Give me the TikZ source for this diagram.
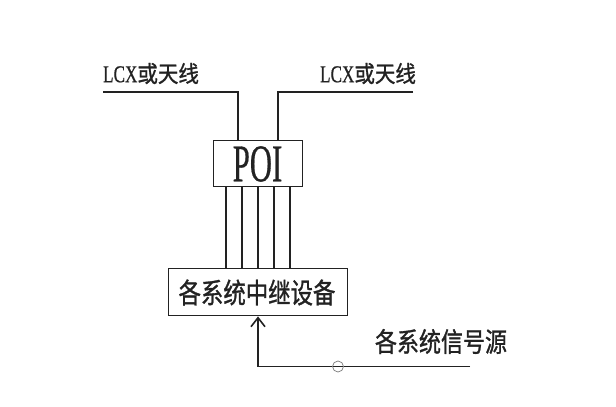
\documentclass[tikz,border=0pt]{standalone}
\usepackage{fontspec}
\setmainfont{Liberation Serif}[FakeBold=0.6,BoldFont=Liberation Serif]
\newfontfamily\cjk{Noto Sans CJK SC}[FakeBold=1.2,BoldFont=Noto Sans CJK SC]
\usetikzlibrary{arrows.meta}
\definecolor{ink}{HTML}{222222}
\tikzset{
  wire/.style={draw=ink, line width=1.8pt},
  boxnode/.style={draw=ink, line width=1.4pt, inner sep=0pt, anchor=north west},
  lbl/.style={inner sep=0pt, text=ink},
}
\newcommand{\lcx}{\scalebox{0.78}[1.1]{\bfseries\fontsize{22}{22}\selectfont LCX}\scalebox{1}[1.12]{\cjk\bfseries\fontsize{20.5}{20.5}\selectfont 或天线}}
\begin{document}
\begin{tikzpicture}[x=1pt,y=-1pt]
\useasboundingbox[fill=white] (0,0) rectangle (616,407);
% POI box
\node[boxnode, minimum width=89pt, minimum height=46pt] (poi) at (213,140) {};
\node[lbl] (poit) at (257.5,164) {\scalebox{0.58}[1]{\fontsize{53}{53}\selectfont POI}};
% relay box
\node[boxnode, minimum width=179pt, minimum height=47pt] (relay) at (168,268) {};
\node[lbl] (relayt) at (257,292.5) {\scalebox{1}[1.25]{\cjk\bfseries\fontsize{22.4}{22.4}\selectfont 各系统中继设备}};
% labels
\node[lbl] (l1) at (151,73.5) {\lcx};
\node[lbl] (l2) at (368,73.5) {\lcx};
\node[lbl] (src) at (441,341.5) {\scalebox{1}[1.22]{\cjk\bfseries\fontsize{22}{22}\selectfont 各系统信号源}};
% coordinates
\coordinate (la) at (103,92);
\coordinate (lb) at (238,92);
\coordinate (ra) at (413,92);
\coordinate (rb) at (278,92);
\draw[wire] (la) -- (lb) -- (lb |- poi.north);
\draw[wire] (ra) -- (rb) -- (rb |- poi.north);
% five lines
\foreach \x in {226,242,258,274,290}{
  \draw[wire, line width=1.6pt] (\x,186) -- (\x,268);
}
% signal source line
\coordinate (se) at (470,366.5);
\coordinate (sc) at (258,366.5);
\draw[wire, -{Straight Barb[length=9pt,width=14pt,line width=1.6pt]}] (se) -- (sc) -- (sc |- relay.south);
\node[draw=ink!60, circle, line width=0.7pt, minimum size=11pt, inner sep=0pt] (cr) at (338,366.5) {};
\end{tikzpicture}
\end{document}
